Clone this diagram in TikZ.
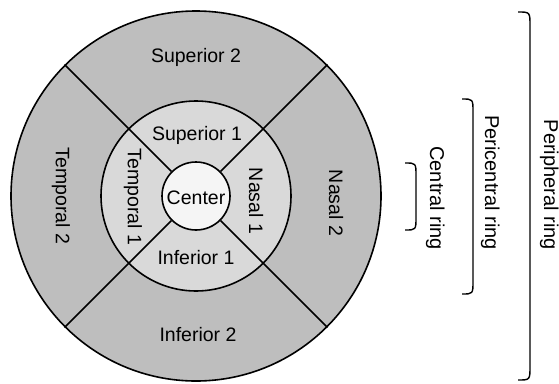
\documentclass[tikz,border=0pt]{standalone}
\usepackage{fontspec}
\setmainfont{Liberation Sans}
\definecolor{outerfill}{RGB}{190,190,190}
\definecolor{midfill}{RGB}{217,217,217}
\definecolor{innerfill}{RGB}{245,245,245}
\begin{document}
\begin{tikzpicture}[x=1pt,y=-1pt,
  ring/.style={circle,draw=black,line width=1.6pt,inner sep=0pt},
  divider/.style={draw=black,line width=1.6pt},
  lbl/.style={font=\fontsize{19.5}{20}\selectfont,inner sep=0pt},
  vlbl/.style={lbl,rotate=-90},
  bracelbl/.style={font=\fontsize{20}{21}\selectfont,inner sep=0pt,rotate=-90,anchor=base east},
  bracket/.style={draw=black,line width=1.4pt}]
\useasboundingbox (0,0) rectangle (559,383);
\coordinate (c) at (196,196);
\node[ring,fill=outerfill,minimum size=370pt] (outer) at (c) {};
\node[ring,fill=midfill,minimum size=190pt] (middle) at (c) {};
\node[ring,fill=innerfill,minimum size=68pt] (inner) at (c) {};
\foreach \a in {45,135,225,315}{
  \draw[divider] (inner.\a) -- (outer.\a);
}
% labels
\node[lbl] (sup2) at (196,57) {Superior 2};
\node[lbl] (sup1) at (197,135) {Superior 1};
\node[lbl] (cen) at (196,198) {Center};
\node[lbl] (inf1) at (196,258) {Inferior 1};
\node[lbl] (inf2) at (198,335) {Inferior 2};
\node[vlbl] (tem2) at (61,196) {Temporal 2};
\node[vlbl] (tem1) at (133,197) {Temporal 1};
\node[vlbl] (nas1) at (256,201) {Nasal 1};
\node[vlbl] (nas2) at (336,203) {Nasal 2};
% brackets
\coordinate (pt) at (518,12);
\coordinate (pb) at (518,380);
\draw[bracket] (pt) .. controls (530,12) .. (530,26) -- (530,366) .. controls (530,380) .. (pb);
\coordinate (mt) at (462,99);
\coordinate (mb) at (462,294);
\draw[bracket] (mt) .. controls (473,99) .. (473,112) -- (473,281) .. controls (473,294) .. (mb);
\coordinate (ct) at (405,163);
\coordinate (cb) at (405,230);
\draw[bracket] (ct) .. controls (416,163) .. (416,176) -- (416,217) .. controls (416,230) .. (cb);
\node[bracelbl] (cring) at (430,250) {Central ring};
\node[bracelbl] (pcring) at (485,250) {Pericentral ring};
\node[bracelbl] (pring) at (544,250) {Peripheral ring};
\end{tikzpicture}
\end{document}
